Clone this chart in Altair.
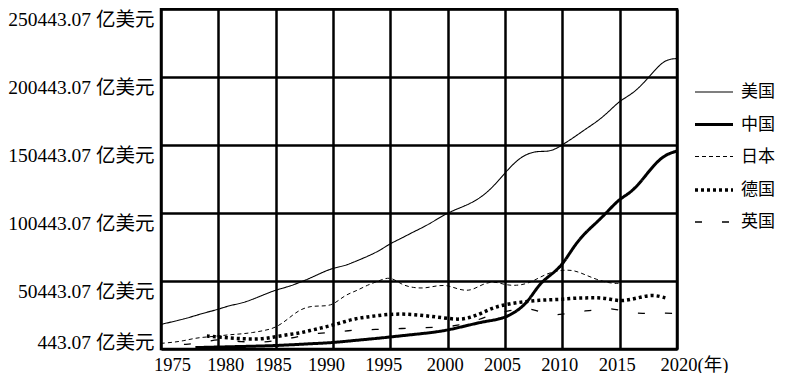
import altair as alt
import pandas as pd

countries = ["美国", "中国", "日本", "德国", "英国"]

us_years = list(range(1975, 2021))
us_values = [18500, 20500, 22500, 25000, 27500, 29600, 32500, 34000, 37000, 40500,
             43800, 46000, 49000, 52500, 56500, 60000, 61500, 65000, 68500, 72500,
             78000, 82000, 86500, 90500, 95500, 100500, 104000, 107500, 112500, 120000,
             130000, 139000, 144500, 146000, 145500, 150500, 156000, 162000, 167500, 174500,
             183000, 187500, 195000, 205000, 213500, 214000]

cn_years = list(range(1978, 2021))
cn_values = [1500, 1700, 1900, 2100, 2300, 2500, 2700, 3000, 3400, 3800,
             4300, 4700, 5200, 6000, 6800, 7600, 8400, 9300, 10200, 11100,
             12000, 13000, 14400, 16300, 18300, 20300, 21600, 23500, 28000, 35000,
             48500, 55000, 62000, 76000, 86000, 93500, 102000, 111000, 115500, 125000,
             136000, 143500, 146000]

jp_years = list(range(1975, 2016))
jp_values = [4600, 5300, 6500, 8500, 9300, 10000, 11000, 11500, 12500, 14000,
             16000, 22000, 29000, 32000, 32000, 32500, 40000, 43000, 47500, 50500,
             54000, 47500, 45500, 45000, 47000, 47500, 44000, 43000, 48000, 50500,
             47500, 47000, 48500, 53000, 57000, 58500, 58500, 55000, 51500, 49000,
             48500]

de_years = list(range(1979, 2020))
de_values = [10000, 9200, 8500, 8000, 7700, 8000, 9500, 11000, 12000, 14000,
             16000, 18000, 20500, 23000, 24000, 25200, 26000, 26200, 25800, 25000,
             24000, 23000, 22000, 23500, 27000, 31000, 33000, 34500, 35500, 36300,
             36700, 37000, 37800, 38000, 38200, 37500, 35500, 36800, 39000, 40300,
             38000]

uk_years = list(range(1977, 2021))
uk_values = [3800, 4500, 6000, 7500, 6800, 5800, 5500, 5500, 6500, 8000,
             9500, 11500, 12000, 13000, 13500, 14500, 14500, 15000, 15200, 15500,
             15800, 16200, 16500, 16800, 18000, 20000, 23000, 26000, 28000, 29500,
             30500, 28000, 25000, 26000, 27500, 28500, 29000, 30500, 29000, 27000,
             26500, 27000, 26700, 26700]

y_ticks = [443.07, 50443.07, 100443.07, 150443.07, 200443.07, 250443.07]
x_ticks = [1975, 1980, 1985, 1990, 1995, 2000, 2005, 2010, 2015, 2020]

dashes = [[1, 0], [1, 0], [4, 3], [3, 3], [7, 20]]
widths = [1.1, 3, 1.0, 3.5, 1.3]

rows = []
for name, yrs, vals in [("美国", us_years, us_values), ("中国", cn_years, cn_values),
                        ("日本", jp_years, jp_values), ("德国", de_years, de_values),
                        ("英国", uk_years, uk_values)]:
    for yr, v in zip(yrs, vals):
        rows.append({"country": name, "year": yr, "value": v})
df = pd.DataFrame(rows)

FONT = "Liberation Serif, Noto Sans CJK SC"

legend = alt.Legend(
    title=None, orient="none", legendX=532, legendY=63,
    symbolType="stroke", symbolSize=1444, symbolStrokeColor="black",
    labelFont=FONT, labelFontSize=17, labelColor="black", labelOffset=6,
    rowPadding=4, padding=0,
)

chart = alt.Chart(df).mark_line(interpolate="basis", color="black").encode(
    x=alt.X("year:Q",
            scale=alt.Scale(domain=[1975, 2020], nice=False, zero=False),
            axis=alt.Axis(values=x_ticks, format="d", title=None, ticks=False,
                          domain=False, grid=True, gridColor="black", gridWidth=2.5,
                          gridOpacity=1, labelFont=FONT, labelFontSize=18.5,
                          labelColor="black", labelPadding=6, labelFlush=False,
                          labelOverlap=False,
                          labelExpr="datum.value == 2020 ? '2020(年)' : datum.label",
                          labelOffset={"expr": "datum.value == 1975 ? 11 : datum.value == 1980 ? 7 : datum.value == 2020 ? 17 : datum.value == 1990 || datum.value == 1995 ? -7 : -3"})),
    y=alt.Y("value:Q",
            scale=alt.Scale(domain=[443.07, 250443.07], nice=False, zero=False),
            axis=alt.Axis(values=y_ticks, title=None, ticks=False, domain=False,
                          grid=True, gridColor="black", gridWidth=2.5, gridOpacity=1,
                          labelFont=FONT, labelFontSize=19.5, labelColor="black",
                          labelPadding=7, labelFlush=False, labelOverlap=False,
                          labelExpr="format(datum.value, '.2f') + ' 亿美元'",
                          labelBaseline={"expr": "datum.value < 1000 ? 'alphabetic' : 'top'"},
                          labelOffset={"expr": "datum.value < 1000 ? -1 : 1"})),
    strokeDash=alt.StrokeDash("country:N", scale=alt.Scale(domain=countries, range=dashes),
                              legend=legend),
    strokeWidth=alt.StrokeWidth("country:N",
                                scale=alt.Scale(type="ordinal", domain=countries, range=widths),
                                legend=legend),
    detail="country:N",
).properties(
    width=516, height=340,
    autosize=alt.AutoSizeParams(type="none"),
    padding={"left": 153, "top": 1, "right": 100, "bottom": 24},
).configure_view(stroke="black", strokeWidth=2.5)

chart.save("out.html", embed_options={"renderer": "svg", "actions": False})
